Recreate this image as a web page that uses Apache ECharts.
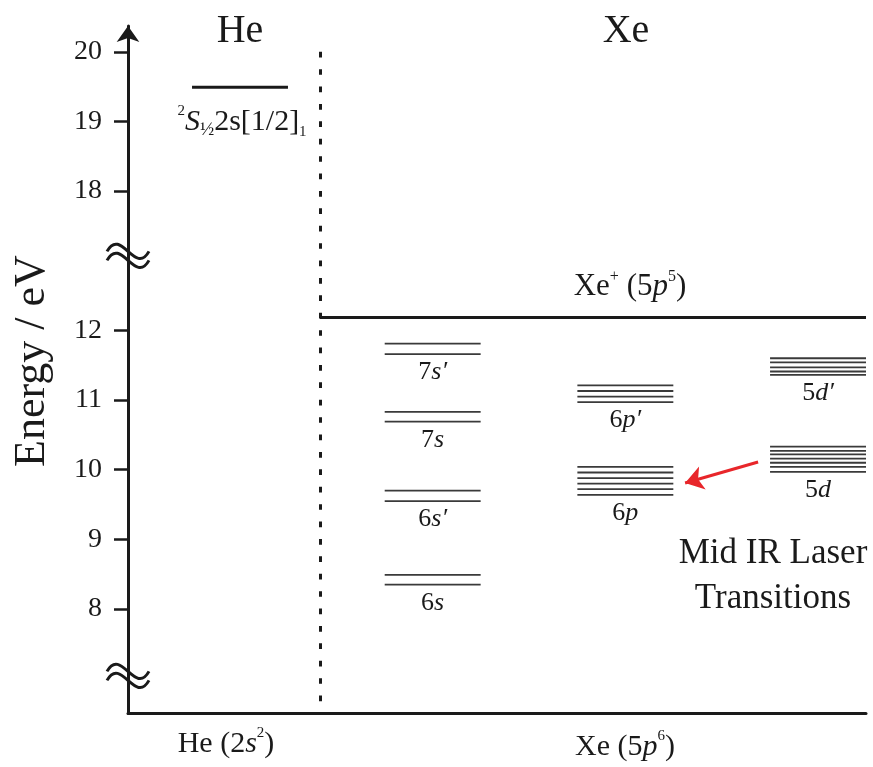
<!DOCTYPE html>
<html><head><meta charset="utf-8">
<script src="https://cdn.jsdelivr.net/npm/echarts@6/dist/echarts.min.js"></script>
<style>html,body{margin:0;padding:0;background:#fff}#c{width:873px;height:767px}</style>
</head><body><div id="c"></div>
<script>
// ---------- data ----------
const columns = ['He', 'Xe s', 'Xe p', 'Xe d'];          // column index 0..3
const groupNames  = ['7s′', '7s', '6s′', '6s', '6p′', '6p', '5d′', '5d'];
const groupColumn = [1, 1, 1, 1, 2, 2, 3, 3];
const levels7sPrime = [11.81, 11.66];
const levels7s      = [10.83, 10.69];
const levels6sPrime = [9.70, 9.55];
const levels6s      = [8.49, 8.35];
const levels6pPrime = [11.21, 11.13, 11.05, 10.97];
const levels6p      = [10.04, 9.96, 9.88, 9.80, 9.72, 9.64];
const levels5dPrime = [11.60, 11.54, 11.47, 11.41, 11.36];
const levels5d      = [10.33, 10.27, 10.22, 10.16, 10.10, 10.04, 9.97];
const heLevel = 19.49;          // He metastable (eV)
const xeIonization = 12.19;     // Xe+ (5p5) limit (eV)
const yTickValues = [8, 9, 10, 11, 12, 18, 19, 20];
const breakShift = 4;           // energies above the break are drawn 4 eV lower
const breakMarksDisplay = [7.04, 13.07];
const arrowTail = [2.689, 10.11];
const arrowTip  = [2.31, 9.81];

// ---------- layout ----------
const FONT = '"Liberation Serif", "Times New Roman", Times, serif';
const X_MIN = -0.5813, X_MAX = 3.249, HALF = 0.249, SPLIT_X = 0.415;
const Y_MIN = 6.5, Y_MAX = 16.37;
const toDisplay = e => (e >= 13 ? e - breakShift : e);
const toReal = d => (d >= 13 ? d + breakShift : d);

const groups = [levels7sPrime, levels7s, levels6sPrime, levels6s,
                levels6pPrime, levels6p, levels5dPrime, levels5d];
const levelRows = [[0, toDisplay(heLevel), 1]];
groups.forEach((g, i) => g.forEach(e => levelRows.push([groupColumn[i], toDisplay(e), 0])));
const labelRows = groups.map((g, i) => [groupColumn[i], toDisplay(Math.min.apply(null, g)), i]);

const ink = '#1a1a1a';
const chart = echarts.init(document.getElementById('c'));
chart.setOption({
  animation: false,
  backgroundColor: '#fff',
  grid: { left: 128, right: 7, top: 26, bottom: 53.5, containLabel: false, outerBoundsMode: 'none' },
  xAxis: {
    type: 'value', min: X_MIN, max: X_MAX,
    axisLine: { show: true, onZero: false, lineStyle: { color: ink, width: 3 } },
    axisTick: { show: false }, axisLabel: { show: false }, splitLine: { show: false }
  },
  yAxis: {
    type: 'value', min: Y_MIN, max: Y_MAX,
    axisLine: { show: true, onZero: false, symbol: ['none', 'arrow'], symbolSize: [17, 16], symbolOffset: [0, 0],
      lineStyle: { color: ink, width: 3 } },
    axisTick: { show: true, length: 14, customValues: yTickValues.map(toDisplay), lineStyle: { color: ink, width: 2.5 } },
    axisLabel: { show: true, margin: 26, customValues: yTickValues.map(toDisplay),
      formatter: v => String(Math.round(toReal(v))), fontFamily: FONT, fontSize: 28, color: ink },
    splitLine: { show: false }
  },
  graphic: [
    { type: 'text', x: 240, y: 31, style: { text: 'He', font: '40px ' + FONT, fill: ink, align: 'center', verticalAlign: 'middle' } },
    { type: 'text', x: 626, y: 31, style: { text: 'Xe', font: '40px ' + FONT, fill: ink, align: 'center', verticalAlign: 'middle' } },
    { type: 'text', x: 32, y: 361, rotation: Math.PI / 2,
      style: { text: 'Energy / eV', font: '44px ' + FONT, fill: ink, align: 'center', verticalAlign: 'middle' } },
    { type: 'text', x: 242, y: 122,
      style: { text: '{sup|2}{si|S}{sub|½}{m|2s[1/2]}{sub1|1}', align: 'center', verticalAlign: 'middle', fill: ink,
        rich: {
          m: { fontFamily: FONT, fontSize: 30, lineHeight: 36, fill: ink },
          si: { fontFamily: FONT, fontSize: 30, fontStyle: 'italic', lineHeight: 36, fill: ink },
          sup: { fontFamily: FONT, fontSize: 15, lineHeight: 24, verticalAlign: 'top', fill: ink },
          sub: { fontFamily: FONT, fontSize: 19, lineHeight: 20, verticalAlign: 'bottom', fill: ink },
          sub1: { fontFamily: FONT, fontSize: 15, lineHeight: 22, verticalAlign: 'bottom', fill: ink }
        } } },
    { type: 'text', x: 630, y: 287,
      style: { text: '{m|Xe}{sup|+}{m| (5}{mi|p}{sup|5}{m|)}', align: 'center', verticalAlign: 'middle', fill: ink,
        rich: {
          m: { fontFamily: FONT, fontSize: 31, lineHeight: 36, fill: ink },
          mi: { fontFamily: FONT, fontSize: 31, fontStyle: 'italic', lineHeight: 36, fill: ink },
          sup: { fontFamily: FONT, fontSize: 16, lineHeight: 24, verticalAlign: 'top', fill: ink }
        } } },
    { type: 'text', x: 226, y: 744,
      style: { text: '{m|He (2}{mi|s}{sup|2}{m|)}', align: 'center', verticalAlign: 'middle', fill: ink,
        rich: {
          m: { fontFamily: FONT, fontSize: 30, lineHeight: 36, fill: ink },
          mi: { fontFamily: FONT, fontSize: 30, fontStyle: 'italic', lineHeight: 36, fill: ink },
          sup: { fontFamily: FONT, fontSize: 15, lineHeight: 24, verticalAlign: 'top', fill: ink }
        } } },
    { type: 'text', x: 625, y: 747,
      style: { text: '{m|Xe (5}{mi|p}{sup|6}{m|)}', align: 'center', verticalAlign: 'middle', fill: ink,
        rich: {
          m: { fontFamily: FONT, fontSize: 30, lineHeight: 36, fill: ink },
          mi: { fontFamily: FONT, fontSize: 30, fontStyle: 'italic', lineHeight: 36, fill: ink },
          sup: { fontFamily: FONT, fontSize: 15, lineHeight: 24, verticalAlign: 'top', fill: ink }
        } } },
    { type: 'text', x: 773, y: 576,
      style: { text: 'Mid IR Laser\nTransitions', font: '35px ' + FONT, lineHeight: 45, fill: ink, align: 'center', verticalAlign: 'middle' } }
  ],
  series: [
    { // energy levels
      type: 'custom', coordinateSystem: 'cartesian2d', data: levelRows, encode: { x: 0, y: 1 }, silent: true, z: 3,
      renderItem: (p, api) => {
        const c = api.value(0), v = api.value(1), he = api.value(2) === 1;
        const a = api.coord([c - HALF, v]), b = api.coord([c + HALF, v]);
        return { type: 'line', shape: { x1: a[0], y1: a[1], x2: b[0], y2: b[1] },
          style: { stroke: he ? ink : '#3a3a3a', lineWidth: he ? 3 : 1.8 } };
      }
    },
    { // group labels
      type: 'custom', coordinateSystem: 'cartesian2d', data: labelRows, encode: { x: 0, y: 1 }, silent: true, z: 3,
      renderItem: (p, api) => {
        const c = api.value(0), v = api.value(1), gi = api.value(2);
        const pt = api.coord([c, v]);
        const name = groupNames[gi];
        const txt = '{n|' + name.charAt(0) + '}{i|' + name.slice(1) + '}';
        return { type: 'text', x: pt[0], y: pt[1] + 18.5,
          style: { text: txt, align: 'center', verticalAlign: 'middle', fill: ink,
            rich: { n: { fontFamily: FONT, fontSize: 26, fill: ink },
                    i: { fontFamily: FONT, fontSize: 26, fontStyle: 'italic', fill: ink } } } };
      }
    },
    { // axis break marks
      type: 'custom', coordinateSystem: 'cartesian2d', data: breakMarksDisplay.map(v => [X_MIN, v]),
      encode: { x: 0, y: 1 }, silent: true, clip: false, z: 5,
      renderItem: (p, api) => {
        const pt = api.coord([api.value(0), api.value(1)]);
        const w = 21, h = 25;
        const wave = dy => ({ type: 'bezierCurve',
          shape: { x1: pt[0] - w, y1: pt[1] + dy, x2: pt[0] + w, y2: pt[1] + dy,
                   cpx1: pt[0] - w / 3, cpy1: pt[1] + dy - h, cpx2: pt[0] + w / 3, cpy2: pt[1] + dy + h },
          style: { stroke: ink, lineWidth: 3, fill: null } });
        return { type: 'group', children: [wave(-4.5), wave(4.5)] };
      }
    },
    { // Xe+ ionization limit
      type: 'lines', coordinateSystem: 'cartesian2d', silent: true, z: 3,
      data: [{ coords: [[SPLIT_X, toDisplay(xeIonization)], [X_MAX, toDisplay(xeIonization)]] }],
      lineStyle: { color: ink, width: 3, opacity: 1 }, symbol: 'none'
    },
    { // He / Xe separator
      type: 'lines', coordinateSystem: 'cartesian2d', silent: true, z: 3,
      data: [{ coords: [[SPLIT_X, 16], [SPLIT_X, 6.665]] }],
      lineStyle: { color: ink, width: 3, type: [5.7, 11.7], opacity: 1 }, symbol: 'none'
    },
    { // laser transition arrow
      type: 'lines', coordinateSystem: 'cartesian2d', silent: true, z: 4,
      data: [{ coords: [arrowTail, arrowTip] }],
      lineStyle: { color: '#e8262a', width: 3, opacity: 1 },
      symbol: ['none', 'arrow'], symbolSize: [13, 18]
    }
  ]
});
</script></body></html>
